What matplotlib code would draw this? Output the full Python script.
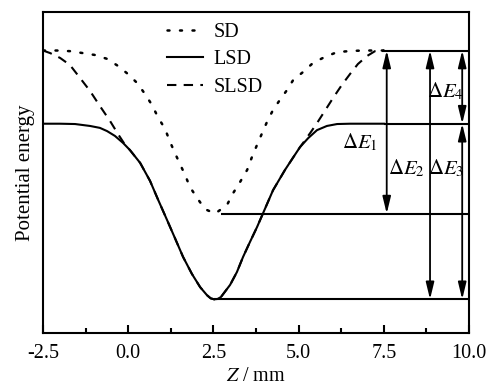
import numpy as np
import matplotlib
matplotlib.use('Agg')
import matplotlib.pyplot as plt

plt.rcParams['font.family'] = 'Liberation Serif'
plt.rcParams['mathtext.fontset'] = 'stix'
plt.rcParams['font.size'] = 14.5

# potential energy (arbitrary units)
lsd_z = [-2.50, -2.00, -1.56, -1.12, -0.83, -0.62, -0.39, -0.15, 0.05, 0.35, 0.64, 0.87,
         1.14, 1.37, 1.61, 1.87, 2.11, 2.31, 2.42, 2.52, 2.62, 2.72, 2.99, 3.19, 3.37, 3.57, 3.78,
         3.96, 4.25, 4.60, 4.81, 5.04, 5.28, 5.54, 5.83, 6.13, 6.51, 6.95, 7.39, 7.50]
lsd_e = [0.652, 0.652, 0.651, 0.645, 0.639, 0.629, 0.614, 0.592, 0.570, 0.530, 0.474, 0.417,
         0.352, 0.296, 0.237, 0.184, 0.143, 0.118, 0.108, 0.105, 0.106, 0.112, 0.150, 0.190, 0.237,
         0.283, 0.330, 0.374, 0.445, 0.508, 0.542, 0.579, 0.607, 0.632, 0.645, 0.651, 0.652, 0.652,
         0.652, 0.652]

sd_z = [-2.50, -2.09, -1.71, -1.33, -0.97, -0.62, -0.30, -0.01, 0.26, 0.49, 0.70, 0.87,
        1.08, 1.23, 1.37, 1.52, 1.67, 1.81, 2.02, 2.25, 2.55, 2.90, 3.08, 3.28, 3.49,
        3.63, 3.78, 3.93, 4.07, 4.25, 4.45, 4.66, 4.84, 5.13, 5.42, 5.77, 6.13, 6.57,
        7.01, 7.39, 7.50]
sd_e = [0.880, 0.880, 0.878, 0.872, 0.866, 0.854, 0.832, 0.807, 0.779, 0.745, 0.710, 0.673,
        0.636, 0.595, 0.561, 0.526, 0.492, 0.455, 0.421, 0.386, 0.372, 0.399, 0.436, 0.470, 0.508,
        0.548, 0.586, 0.623, 0.657, 0.695, 0.726, 0.757, 0.788, 0.813, 0.841, 0.860, 0.875, 0.879,
        0.880, 0.880, 0.880]

# SLSD: own branches on both sides, LSD curve in between
slsd_left_z = [-2.50, -2.29, -2.00, -1.71, -1.41, -1.12, -0.83, -0.53, -0.30, -0.09]
slsd_left_e = [0.880, 0.872, 0.857, 0.835, 0.794, 0.754, 0.707, 0.660, 0.620, 0.586]
slsd_right_z = [5.13, 5.34, 5.54, 5.77, 6.01, 6.27, 6.51, 6.74, 7.01, 7.24, 7.39, 7.50]
slsd_right_e = [0.592, 0.623, 0.654, 0.692, 0.732, 0.773, 0.807, 0.838, 0.863, 0.878, 0.880, 0.880]

lsd_z = np.array(lsd_z)
lsd_e = np.array(lsd_e)
mid = (lsd_z > 0) & (lsd_z < 5.1)
slsd_z = np.concatenate([slsd_left_z, lsd_z[mid], slsd_right_z])
slsd_e = np.concatenate([slsd_left_e, lsd_e[mid], slsd_right_e])

e_top = 0.880      # SD / SLSD barrier
e_plat = 0.652     # LSD barrier
e_sdmin = 0.372
e_lsdmin = 0.105

fig, ax = plt.subplots(figsize=(4.92, 3.87), dpi=100)
fig.subplots_adjust(left=0.0874, right=0.9533, bottom=0.1395, top=0.969)

ax.plot(sd_z, sd_e, color='k', lw=1.8, ls=(0, (0.8, 4.2)), dash_capstyle='round', label='SD')
ax.plot(slsd_z, slsd_e, color='k', lw=1.5, ls=(0, (4.5, 3.5)), label='SLSD', zorder=2)
ax.plot(lsd_z, lsd_e, color='k', lw=1.5, label='LSD', zorder=3, solid_joinstyle='round')

# energy levels
ax.hlines(e_top, 7.45, 10, color='k', lw=1.5)
ax.hlines(e_plat, 7.5, 10, color='k', lw=1.5)
ax.hlines(e_sdmin, 2.72, 10, color='k', lw=1.5)
ax.hlines(e_lsdmin, 2.52, 10, color='k', lw=1.5)

arrow = dict(arrowstyle='<|-|>,head_length=0.7,head_width=0.17', color='k', lw=1.3,
             shrinkA=0, shrinkB=0)
ax.annotate('', xy=(7.585, e_sdmin), xytext=(7.585, e_top), arrowprops=arrow)
ax.annotate('', xy=(8.856, e_lsdmin), xytext=(8.856, e_top), arrowprops=arrow)
ax.annotate('', xy=(9.80, e_plat), xytext=(9.80, e_top), arrowprops=arrow)
ax.annotate('', xy=(9.80, e_lsdmin), xytext=(9.80, e_plat), arrowprops=arrow)

ax.text(6.80, 0.595, r'$\Delta E_1$', ha='center', va='center', fontsize=15)
ax.text(8.15, 0.514, r'$\Delta E_2$', ha='center', va='center', fontsize=15)
ax.text(9.33, 0.514, r'$\Delta E_3$', ha='center', va='center', fontsize=15)
ax.text(9.30, 0.751, r'$\Delta E_4$', ha='center', va='center', fontsize=15)

ax.set_xlim(-2.5, 10)
ax.set_ylim(0, 1)
ax.set_xticks([-2.5, 0.0, 2.5, 5.0, 7.5, 10.0])
ax.set_xticklabels(['-2.5', '0.0', '2.5', '5.0', '7.5', '10.0'])
ax.set_xticks([-1.25, 1.25, 3.75, 6.25, 8.75], minor=True)
ax.tick_params(axis='x', which='major', direction='in', length=6, width=1.5, pad=8)
ax.tick_params(axis='x', which='minor', direction='in', length=3.5, width=1.5)
ax.set_yticks([])
for s in ax.spines.values():
    s.set_linewidth(1.5)

ax.set_xlabel(r'$Z$ / mm', labelpad=3)
ax.set_ylabel('Potential energy', fontsize=15, labelpad=6)

h, l = ax.get_legend_handles_labels()
order = [0, 2, 1]
ax.legend([h[i] for i in order], [l[i] for i in order], loc='upper left',
          bbox_to_anchor=(0.29, 0.965), frameon=False, borderpad=0, borderaxespad=0,
          handlelength=1.8, handletextpad=0.55, labelspacing=0.4)

fig.savefig('out.png', dpi=100)
